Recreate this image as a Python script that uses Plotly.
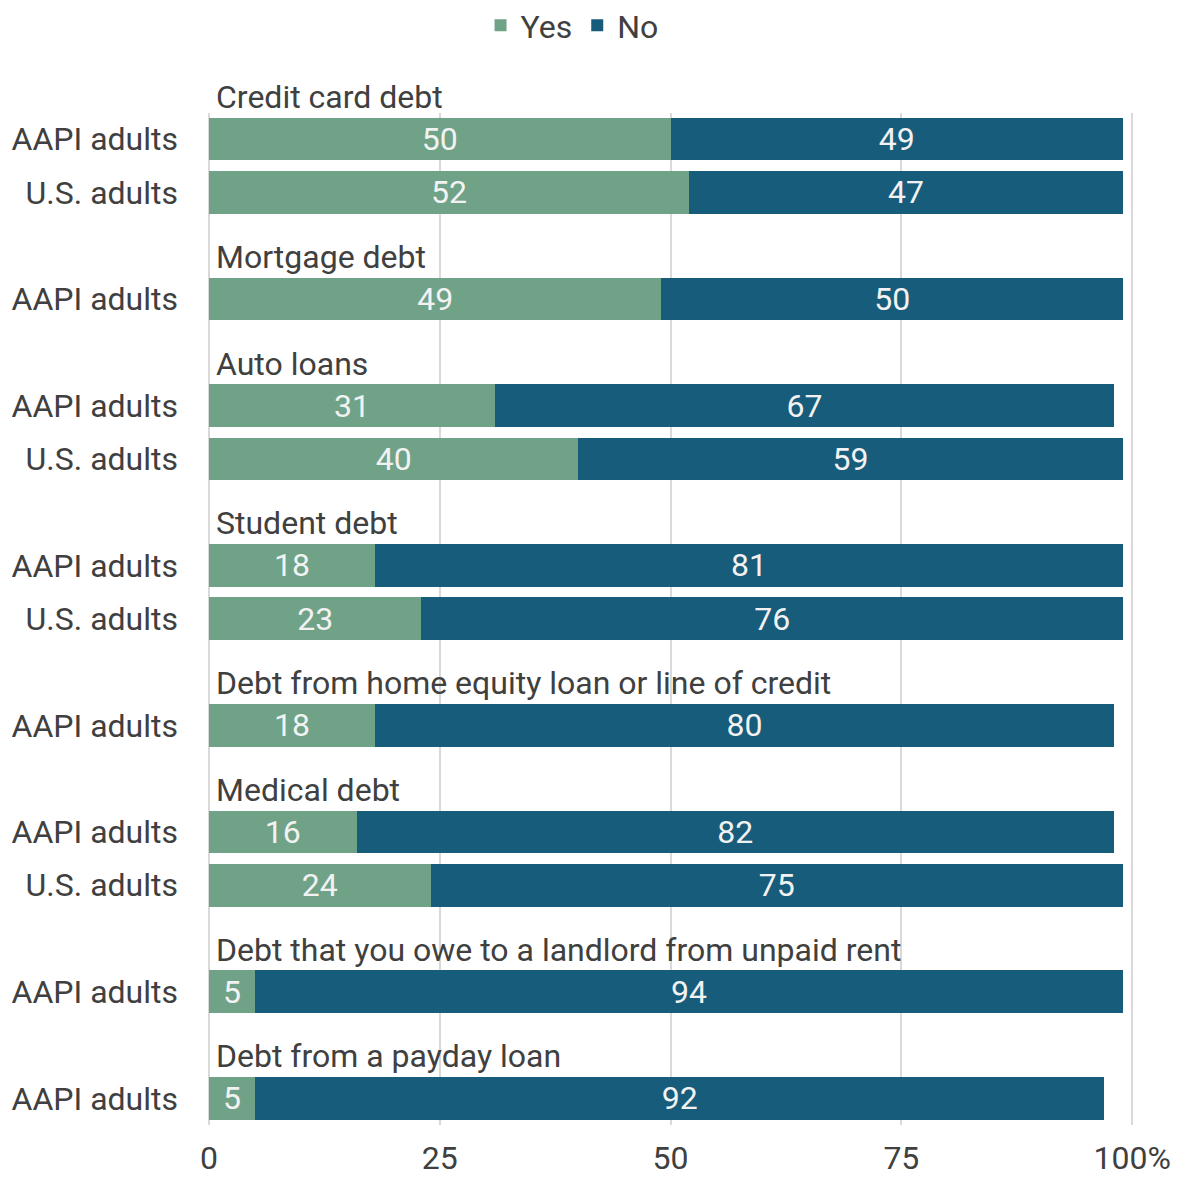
import plotly.graph_objects as go

# data
groups = ["Credit card debt", "Credit card debt", "Mortgage debt", "Auto loans", "Auto loans",
          "Student debt", "Student debt", "Debt from home equity loan or line of credit",
          "Medical debt", "Medical debt", "Debt that you owe to a landlord from unpaid rent",
          "Debt from a payday loan"]
populations = ["AAPI adults", "U.S. adults", "AAPI adults", "AAPI adults", "U.S. adults",
               "AAPI adults", "U.S. adults", "AAPI adults", "AAPI adults", "U.S. adults",
               "AAPI adults", "AAPI adults"]
yes_vals = [50, 52, 49, 31, 40, 18, 23, 18, 16, 24, 5, 5]
no_vals = [49, 47, 50, 67, 59, 81, 76, 80, 82, 75, 94, 92]
x_ticks = [0, 25, 50, 75, 100]
x_ticktext = ["0", "25", "50", "75", "100%"]

GREEN = "#6fa287"
BLUE = "#185c7b"
FONT = "Roboto"
FS = 32

# row positions: one blank slot before each new group (holds the header)
ypos = []
headers = []
pos = 0
prev = None
for g in groups:
    if prev is not None and g != prev:
        pos += 1
    if g != prev:
        headers.append((g, pos))
    ypos.append(pos)
    pos += 1
    prev = g

fig = go.Figure()
fig.add_trace(go.Bar(y=ypos, x=yes_vals, name="Yes", orientation="h",
                     marker=dict(color=GREEN, line=dict(width=0)),
                     text=yes_vals, textposition="inside", insidetextanchor="middle",
                     textangle=0, constraintext="none",
                     textfont=dict(color="#f2f2f2", size=FS, family=FONT),
                     width=0.8, hoverinfo="x"))
fig.add_trace(go.Bar(y=ypos, x=no_vals, name="No", orientation="h",
                     marker=dict(color=BLUE, line=dict(width=0)),
                     text=no_vals, textposition="inside", insidetextanchor="middle",
                     textangle=0, constraintext="none",
                     textfont=dict(color="#f2f2f2", size=FS, family=FONT),
                     width=0.8, hoverinfo="x"))

for name, y in headers:
    fig.add_annotation(x=0, y=y, xref="x", yref="y", text=name, showarrow=False,
                       xanchor="left", yanchor="middle", xshift=5, yshift=42,
                       font=dict(size=FS, color="#404040", family=FONT))

# page body adds ~8px offset, so figure is drawn a bit smaller
fig.update_layout(
    barmode="stack",
    width=1180, height=1170,
    margin=dict(l=201, r=54, t=105, b=53),
    plot_bgcolor="white", paper_bgcolor="white",
    font=dict(family=FONT, size=FS, color="#404040"),
    legend=dict(orientation="h", x=0.478, xanchor="center", xref="container",
                y=0.985, yref="container", yanchor="middle",
                font=dict(size=FS, color="#404040"), traceorder="normal"),
    xaxis=dict(range=[0, 100.2], tickvals=x_ticks, ticktext=x_ticktext,
               showgrid=True, gridcolor="#d9d9d9", gridwidth=2,
               zeroline=True, zerolinecolor="#d9d9d9", zerolinewidth=2,
               ticks="outside", ticklen=5, tickcolor="rgba(0,0,0,0)",
               tickfont=dict(size=FS, color="#404040"), automargin=False),
    yaxis=dict(range=[18.5, -0.49], tickvals=ypos, ticktext=populations,
               showgrid=False, zeroline=False, ticks="", ticklabelstandoff=30,
               tickfont=dict(size=FS, color="#404040"), automargin=False),
    showlegend=True,
)

fig.write_html("out.html")
